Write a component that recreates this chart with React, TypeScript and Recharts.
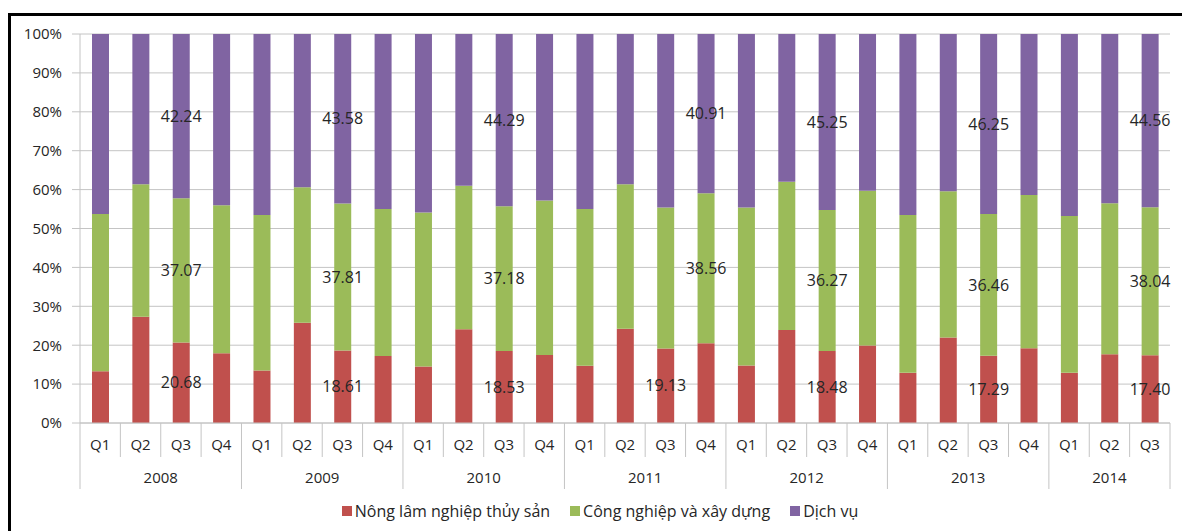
import { BarChart, Bar, XAxis, YAxis, CartesianGrid, LabelList, Legend } from "recharts";

const quarters = [
  "Q1", "Q2", "Q3", "Q4", "Q1", "Q2", "Q3", "Q4", "Q1", "Q2", "Q3", "Q4", "Q1", "Q2",
  "Q3", "Q4", "Q1", "Q2", "Q3", "Q4", "Q1", "Q2", "Q3", "Q4", "Q1", "Q2", "Q3",
];
const years = [
  "2008", "2008", "2008", "2008", "2009", "2009", "2009", "2009", "2010", "2010", "2010",
  "2010", "2011", "2011", "2011", "2011", "2012", "2012", "2012", "2012", "2013", "2013",
  "2013", "2013", "2014", "2014", "2014",
];

// % GDP theo khu vực
const nongLamNghiep = [
  13.3, 27.3, 20.68, 17.9, 13.5, 25.8, 18.61, 17.2, 14.5, 24.1, 18.53, 17.5, 14.7, 24.2,
  19.13, 20.53, 14.8, 23.9, 18.48, 19.9, 12.9, 22.0, 17.29, 19.2, 12.9, 17.7, 17.4,
];
const congNghiep = [
  40.4, 34.1, 37.07, 38.1, 40.0, 34.8, 37.81, 37.8, 39.6, 36.9, 37.18, 39.7, 40.3, 37.2,
  36.3, 38.56, 40.6, 38.1, 36.27, 39.8, 40.6, 37.6, 36.46, 39.4, 40.3, 38.8, 38.04,
];
const dichVu = [
  46.3, 38.6, 42.24, 44.0, 46.5, 39.4, 43.58, 45.0, 45.9, 39.0, 44.29, 42.8, 45.0, 38.6,
  44.6, 40.91, 44.6, 38.0, 45.25, 40.3, 46.5, 40.4, 46.25, 41.4, 46.8, 43.5, 44.56,
];

// bars that carry a value label
const labeledNong = [2, 6, 10, 14, 18, 22, 26];
const labeledCong = [2, 6, 10, 15, 18, 22, 26];
const labeledDich = [2, 6, 10, 15, 18, 22, 26];

const yTicks = [0, 0.1, 0.2, 0.3, 0.4, 0.5, 0.6, 0.7, 0.8, 0.9, 1];

const data = quarters.map((q, i) => ({
  key: `${years[i]}-${q}`,
  q,
  year: years[i],
  nong: nongLamNghiep[i],
  cong: congNghiep[i],
  dich: dichVu[i],
  nongLabel: labeledNong.includes(i) ? nongLamNghiep[i] : null,
  congLabel: labeledCong.includes(i) ? congNghiep[i] : null,
  dichLabel: labeledDich.includes(i) ? dichVu[i] : null,
}));

const series = [
  { key: "nong", label: "nongLabel", name: "Nông lâm nghiệp thủy sản", color: "#c0504d" },
  { key: "cong", label: "congLabel", name: "Công nghiệp và xây dựng", color: "#9bbb59" },
  { key: "dich", label: "dichLabel", name: "Dịch vụ", color: "#8064a2" },
];

const FONT = "'Open Sans', sans-serif";
const TEXT = "#262626";
const LINE = "#c4c4c4";

const WIDTH = 1171;
const HEIGHT = 515;
const MARGIN = { top: 18, right: 12, left: 19, bottom: 3 };
const Y_WIDTH = 50;
const BAND = (WIDTH - MARGIN.left - MARGIN.right - Y_WIDTH) / quarters.length;

function QuarterTick(props: any) {
  const { x, y, payload } = props;
  const i = payload.index;
  const half = BAND / 2;
  const firstOfYear = i === 0 || years[i] !== years[i - 1];
  const yearCount = years.filter((yr) => yr === years[i]).length;
  const last = i === quarters.length - 1;
  return (
    <g>
      <line x1={x - half} x2={x - half} y1={y} y2={y + (firstOfYear ? 66 : 34)} stroke={LINE} />
      {last && <line x1={x + half} x2={x + half} y1={y} y2={y + 66} stroke={LINE} />}
      <text x={x} y={y + 27} textAnchor="middle" fontSize={15} fontFamily={FONT} fill={TEXT}>
        {quarters[i]}
      </text>
      {firstOfYear && (
        <text
          x={x - half + (yearCount * BAND) / 2}
          y={y + 60}
          textAnchor="middle"
          fontSize={15}
          fontFamily={FONT}
          fill={TEXT}
        >
          {years[i]}
        </text>
      )}
    </g>
  );
}

function renderLegend() {
  return (
    <div
      style={{
        height: 30,
        display: "flex",
        justifyContent: "center",
        alignItems: "center",
        gap: 20,
        paddingBottom: 4,
        boxSizing: "border-box",
        fontFamily: FONT,
        fontSize: 16,
        color: TEXT,
      }}
    >
      {series.map((s) => (
        <div key={s.key} style={{ display: "flex", alignItems: "center", gap: 3 }}>
          <span style={{ width: 10, height: 10, background: s.color, display: "inline-block" }} />
          <span>{s.name}</span>
        </div>
      ))}
    </div>
  );
}

export default function App() {
  return (
    <div
      style={{
        position: "absolute",
        top: 13,
        left: 8,
        width: 1174,
        height: 518,
        borderTop: "3px solid #000",
        borderLeft: "3px solid #000",
        boxSizing: "border-box",
        background: "#fff",
        overflow: "hidden",
        fontFamily: FONT,
      }}
    >
      <BarChart width={WIDTH} height={HEIGHT} data={data} margin={MARGIN} stackOffset="expand">
        <CartesianGrid vertical={false} stroke={LINE} />
        <XAxis
          dataKey="key"
          interval={0}
          height={75}
          tickLine={false}
          tickSize={0}
          tickMargin={0}
          axisLine={{ stroke: LINE }}
          tick={<QuarterTick />}
        />
        <YAxis
          width={Y_WIDTH}
          domain={[0, 1]}
          ticks={yTicks}
          tickFormatter={(v: number) => `${Math.round(v * 100)}%`}
          tickSize={8}
          tickMargin={10}
          tickLine={{ stroke: LINE }}
          axisLine={{ stroke: LINE }}
          tick={{ fontSize: 15, fill: TEXT, fontFamily: FONT }}
        />
        <Legend verticalAlign="bottom" content={renderLegend} />
        {series.map((s) => (
          <Bar
            key={s.key}
            dataKey={s.key}
            name={s.name}
            stackId="a"
            fill={s.color}
            barSize={17}
            isAnimationActive={false}
          >
            <LabelList
              dataKey={s.label}
              position="center"
              formatter={(v: any) => (v == null ? "" : Number(v).toFixed(2))}
              style={{ fontSize: 16, fill: TEXT, fontFamily: FONT }}
            />
          </Bar>
        ))}
      </BarChart>
    </div>
  );
}
